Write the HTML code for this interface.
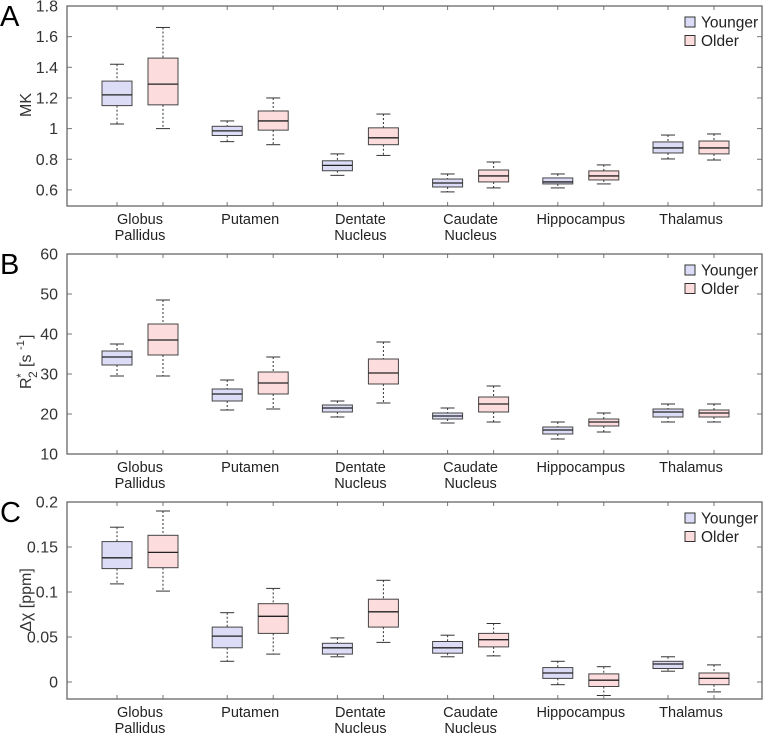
<!DOCTYPE html>
<html><head><meta charset="utf-8"><style>
html,body{margin:0;padding:0;background:#fff;}
svg{display:block;font-family:"Liberation Sans","DejaVu Sans",sans-serif;}
</style></head><body>
<svg id="fig" width="763" height="734" viewBox="0 0 763 734" xmlns="http://www.w3.org/2000/svg"></svg>
<script>
const categories = [["Globus","Pallidus"],["Putamen"],["Dentate","Nucleus"],["Caudate","Nucleus"],["Hippocampus"],["Thalamus"]];
// each entry: [whiskerHigh, q3, median, q1, whiskerLow]
const mkYounger = [[1.42,1.31,1.22,1.15,1.03],[1.05,1.015,0.985,0.955,0.915],[0.835,0.79,0.76,0.725,0.695],[0.704,0.671,0.645,0.619,0.587],[0.704,0.678,0.652,0.639,0.613],[0.958,0.913,0.874,0.841,0.802]];
const mkOlder = [[1.66,1.46,1.29,1.155,1.0],[1.2,1.115,1.05,0.99,0.895],[1.095,1.005,0.94,0.895,0.825],[0.782,0.73,0.691,0.652,0.613],[0.763,0.724,0.691,0.665,0.639],[0.965,0.919,0.874,0.835,0.795]];
const r2Younger = [[37.5,35.75,34.25,32.25,29.5],[28.5,26.25,25,23.25,21],[23.25,22.25,21.5,20.5,19.25],[21.5,20.25,19.5,18.75,17.75],[18,16.75,16,15,13.75],[22.5,21.25,20.5,19.25,18]];
const r2Older = [[48.5,42.5,38.5,34.75,29.5],[34.25,30.5,27.75,25,21.25],[38,33.75,30.25,27.5,22.75],[27,24.25,22.5,20.5,18],[20.25,18.75,18,17,15.5],[22.5,21,20.25,19.25,18]];
const chiYounger = [[0.172,0.156,0.138,0.126,0.109],[0.077,0.061,0.051,0.038,0.023],[0.049,0.043,0.038,0.031,0.028],[0.052,0.045,0.038,0.032,0.028],[0.023,0.016,0.010,0.004,-0.003],[0.028,0.023,0.020,0.015,0.012]];
const chiOlder = [[0.19,0.163,0.144,0.127,0.101],[0.104,0.087,0.073,0.054,0.031],[0.113,0.092,0.078,0.061,0.044],[0.065,0.054,0.047,0.039,0.029],[0.017,0.009,0.002,-0.005,-0.015],[0.019,0.010,0.004,-0.003,-0.011]];
const mkTicks = ["0.6","0.8","1","1.2","1.4","1.6","1.8"];
const r2Ticks = ["10","20","30","40","50","60"];
const chiTicks = ["0","0.05","0.1","0.15","0.2"];
const seriesNames = ["Younger","Older"];

const NS="http://www.w3.org/2000/svg";
const fig=document.getElementById('fig');
function mk(tag,attrs,parent,text){const e=document.createElementNS(NS,tag);for(const k in attrs)e.setAttribute(k,attrs[k]);if(text!==undefined)e.textContent=text;(parent||fig).appendChild(e);return e;}

const X0=67,X1=762;
function xPos(i,s){return 117+i*110.2+s*46;}

function panel(p){
  const g=mk('g',{});
  
  
  const y=v=>p.top+(p.max-v)/(p.max-p.min)*(p.bottom-p.top);
  const lt=mk('text',{x:0,y:p.top+20,'font-size':29,fill:'#000'},g,p.letter);
  
  
  p.ticks.forEach(t=>{
    const v=parseFloat(t),yy=y(v);
    const tl=mk('text',{x:58,y:yy+5.5,'font-size':16,fill:'#333','text-anchor':'end'},g,t);
    
    
    mk('line',{x1:X0,x2:X0+5,y1:yy,y2:yy,stroke:'#777'},g);
    mk('line',{x1:X1-5,x2:X1,y1:yy,y2:yy,stroke:'#777'},g);
  });
  const at=mk('g',{transform:`translate(31,${p.titleY}) rotate(-90)`},g);
  
  
  p.title(at);
  [p.a,p.b].forEach((series,s)=>{
    series.forEach((d,i)=>{
      const cx=xPos(i,s),w=15;
      const bg=mk('g',{},g);
      
      
      const col=s?'#fcdcdc':'#dcdcf7';
      mk('line',{x1:cx,x2:cx,y1:y(d[0]),y2:y(d[1]),stroke:'#333','stroke-dasharray':'2,2'},bg);
      mk('line',{x1:cx,x2:cx,y1:y(d[3]),y2:y(d[4]),stroke:'#333','stroke-dasharray':'2,2'},bg);
      mk('line',{x1:cx-7,x2:cx+7,y1:y(d[0]),y2:y(d[0]),stroke:'#333'},bg);
      mk('line',{x1:cx-7,x2:cx+7,y1:y(d[4]),y2:y(d[4]),stroke:'#333'},bg);
      mk('rect',{x:cx-w,y:y(d[1]),width:2*w,height:y(d[3])-y(d[1]),fill:col,stroke:'#444'},bg);
      mk('line',{x1:cx-w,x2:cx+w,y1:y(d[2]),y2:y(d[2]),stroke:'#222','stroke-width':1.3},bg);
    });
  });
  for(let i=0;i<categories.length;i++)for(let s=0;s<2;s++){
    const cx=xPos(i,s);
    mk('line',{x1:cx,x2:cx,y1:p.top,y2:p.top+4,stroke:'#777'},g);
    mk('line',{x1:cx,x2:cx,y1:p.bottom-4,y2:p.bottom,stroke:'#777'},g);
  }
  categories.forEach((c,i)=>{
    const cx=(xPos(i,0)+xPos(i,1))/2;
    c.forEach((ln,k)=>{
      const t=mk('text',{x:cx,y:p.bottom+18+k*16,'font-size':14.5,fill:'#222','text-anchor':'middle'},g,ln);
      
      
    });
  });
  mk('rect',{x:X0,y:p.top,width:X1-X0,height:p.bottom-p.top,fill:'none',stroke:'#666','stroke-width':1.3},g);
  seriesNames.forEach((n,k)=>{
    const ly=p.top+11+k*18.5;
    const lg=mk('g',{},g);
    
    
    mk('rect',{x:685,y:ly,width:10,height:10,fill:k?'#fcdcdc':'#dcdcf7',stroke:'#333'},lg);
    mk('text',{x:701,y:ly+10.5,'font-size':15.5,fill:'#222'},lg,n);
  });
}

panel({letter:'A',top:6,bottom:206,min:0.495,max:1.8,ticks:mkTicks,a:mkYounger,b:mkOlder,titleY:105,
  title:t=>{mk('text',{x:0,y:0,'font-size':16,fill:'#333','text-anchor':'middle'},t,'MK');}});
panel({letter:'B',top:254,bottom:454,min:10,max:60,ticks:r2Ticks,a:r2Younger,b:r2Older,titleY:354,
  title:t=>{
    mk('text',{x:-35,y:0,'font-size':16,fill:'#333'},t,'R');
    mk('text',{x:-24,y:-6,'font-size':12,fill:'#333'},t,'*');
    mk('text',{x:-24,y:6,'font-size':12,fill:'#333'},t,'2');
    mk('text',{x:-13,y:0,'font-size':16,fill:'#333'},t,'[s');
    mk('text',{x:4,y:-7,'font-size':11,fill:'#333'},t,'-1');
    mk('text',{x:15,y:0,'font-size':16,fill:'#333'},t,']');
  }});
panel({letter:'C',top:502,bottom:699,min:-0.0189,max:0.2,ticks:chiTicks,a:chiYounger,b:chiOlder,titleY:600,
  title:t=>{mk('text',{x:0,y:0,'font-size':16,fill:'#333','text-anchor':'middle'},t,'Δχ [ppm]');}});
</script>
</body></html>
